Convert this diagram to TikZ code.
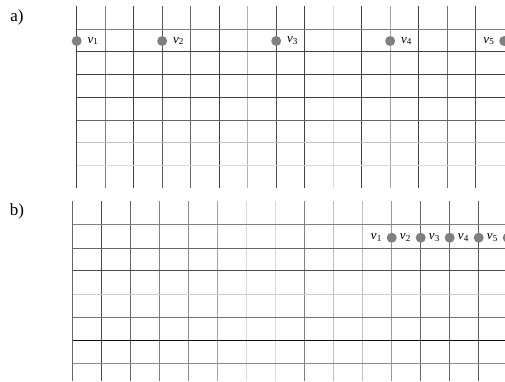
\documentclass[tikz,border=0pt]{standalone}
\usepackage{fontspec}
\setmainfont{Liberation Serif}
\usetikzlibrary{positioning}

\begin{document}
\begin{tikzpicture}[x=1pt,y=-1pt,line width=0.9pt,
 every node/.style={font=\fontsize{13}{15}\selectfont,inner sep=1pt},
 panel/.style={font=\fontsize{17}{19}\selectfont},
 vertex/.style={circle,fill=black!50,minimum size=10pt,inner sep=0pt}]
\useasboundingbox (0,0) rectangle (505,381);
\clip (0,0) rectangle (505,381);
% a) vertices spread over the whole row
\node[panel] (labA) at (17,17) {a)};
\foreach \i/\s in {0/75,1/50,2/75,3/65,4/60,5/75,6/30,7/70,8/75,9/15,10/75,11/35,12/75,13/55,14/70}
 \draw[black!\s] (76.7+28.5*\i,6) -- (76.7+28.5*\i,188);
\foreach \j/\s in {29/50,51.7/75,74.7/75,97.7/75,120/60,142.7/25,165.3/15}
 \draw[black!\s] (76.7,\j) -- (505,\j);
\foreach \n/\k in {1/0,2/3,3/7,4/11,5/15}
 \node[vertex] (a\n) at (76.7+28.5*\k,41) {};
\foreach \n in {1,2,3,4}
 \node[right=4pt of a\n] (va\n) {\textit{v}\textsubscript{\n}};
\node[left=3pt of a5] (va5) {\textit{v}\textsubscript{5}};
% b) vertices packed at the right
\node[panel] (labB) at (17,211) {b)};
\foreach \i/\s in {0/60,1/70,2/60,3/50,4/45,5/35,6/15,7/15,8/50,9/25,10/25,11/40,12/60,13/60,14/65}
 \draw[black!\s] (72.7+29*\i,201) -- (72.7+29*\i,381);
\foreach \j/\s in {224/50,248/60,270.7/70,294/20,317.7/55,340.3/95,363.3/45}
 \draw[black!\s] (72.7,\j) -- (505,\j);
\foreach \n/\k in {1/11,2/12,3/13,4/14,5/15}
 {\node[vertex] (b\n) at (72.7+29*\k,237.7) {};
  \node[left=3pt of b\n] (vb\n) {\textit{v}\textsubscript{\n}};}
\end{tikzpicture}
\end{document}
